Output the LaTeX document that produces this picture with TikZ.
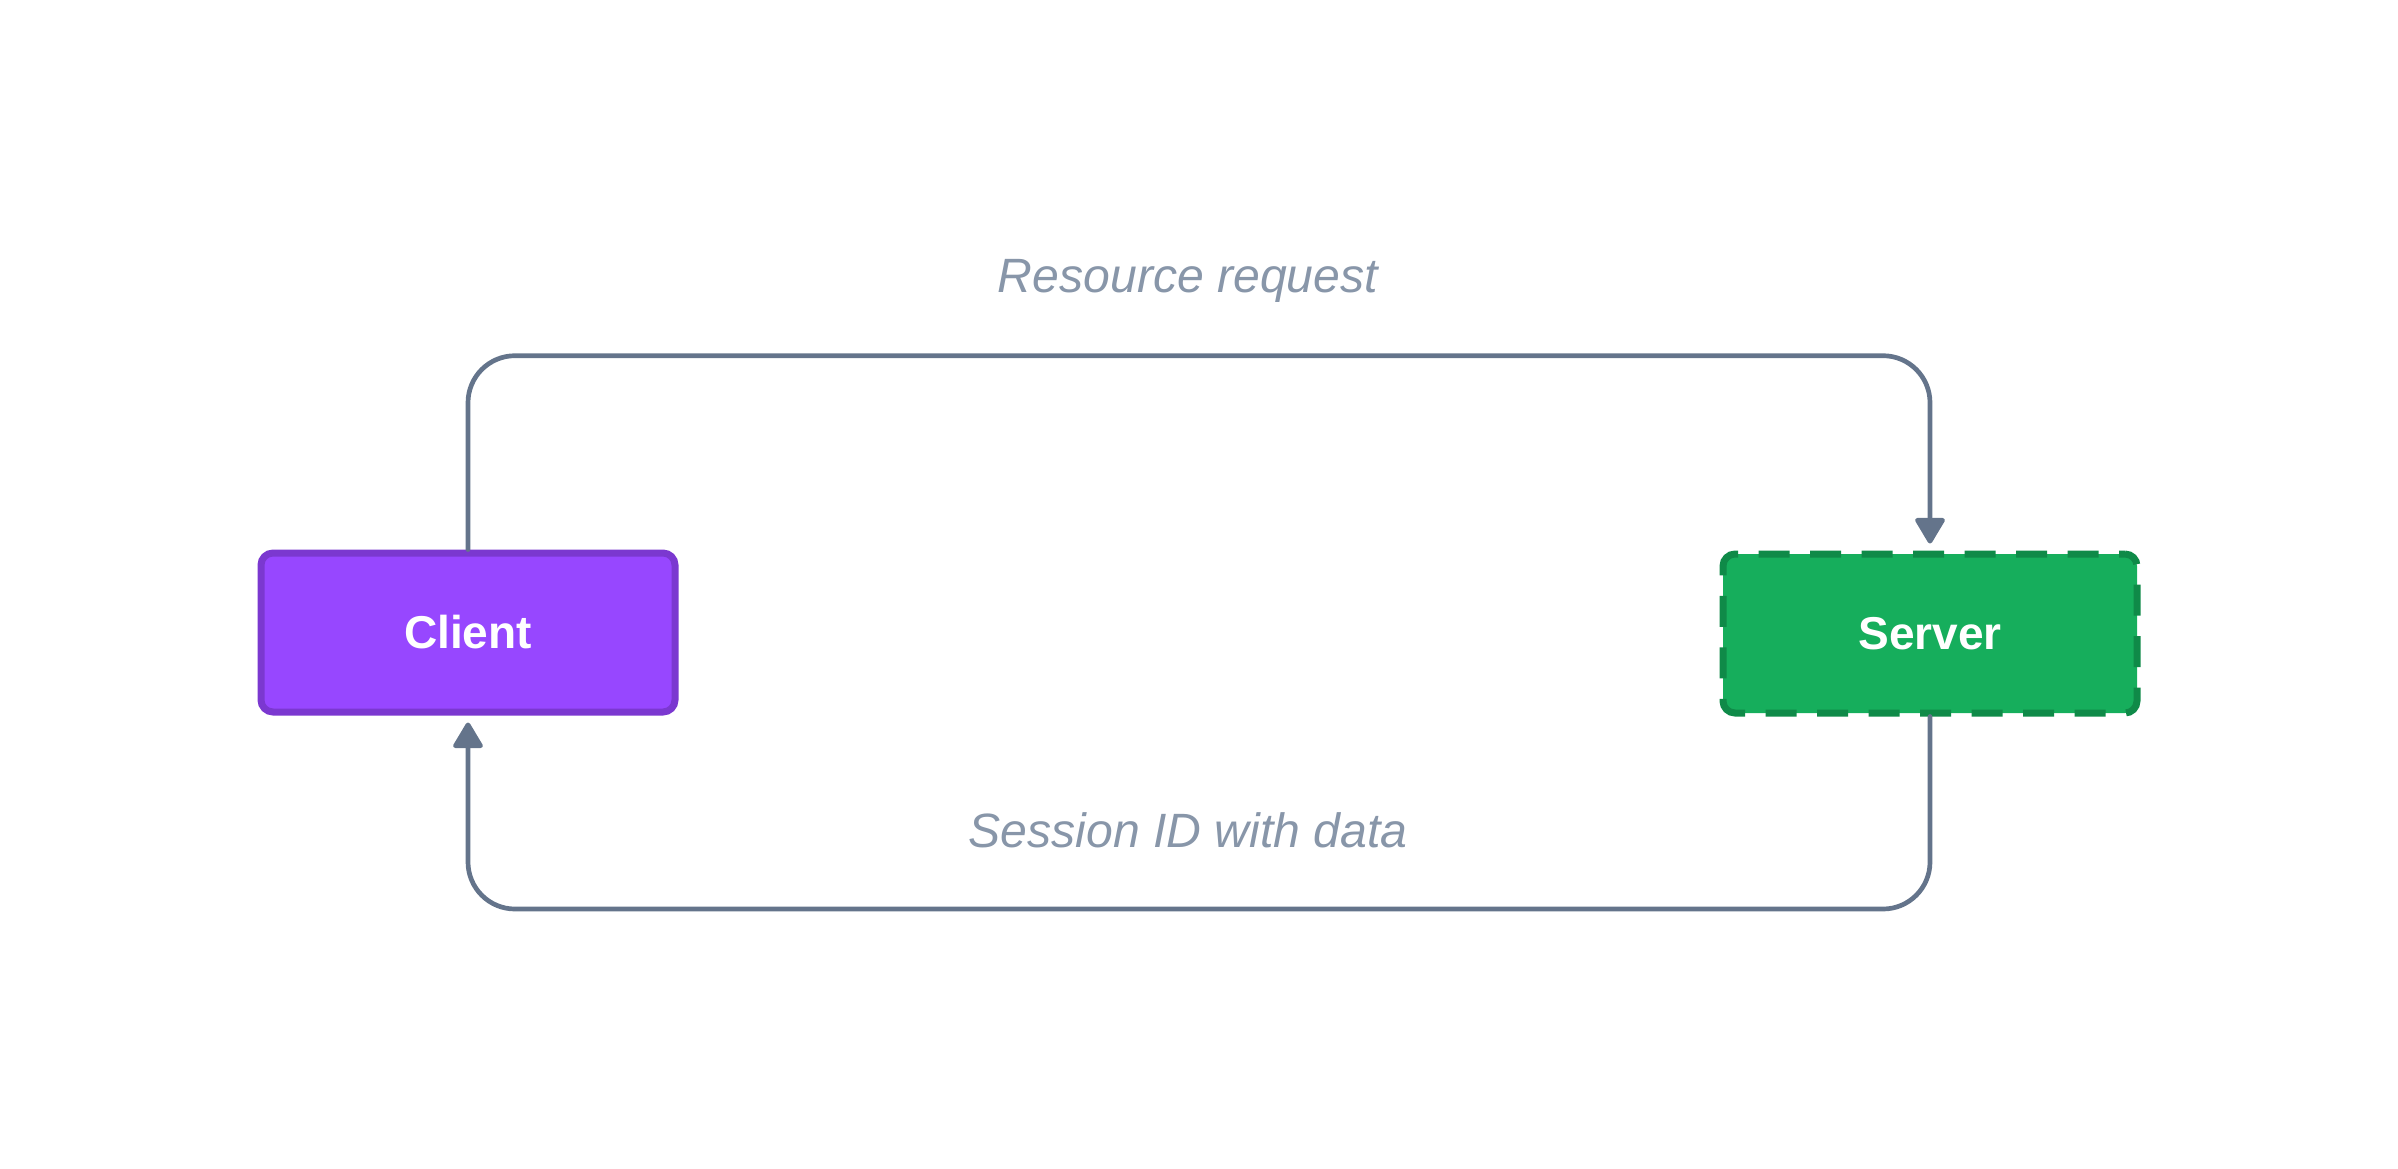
\documentclass[tikz,border=0pt]{standalone}
\usepackage{fontspec}
\setmainfont{Liberation Sans}
\usetikzlibrary{arrows.meta}
\definecolor{clientfill}{HTML}{9747FF}
\definecolor{clientline}{HTML}{7B38D0}
\definecolor{serverfill}{HTML}{16AE5C}
\definecolor{serverline}{HTML}{0F8A48}
\definecolor{flowline}{HTML}{64748B}
\definecolor{notetext}{HTML}{8896A9}

\begin{document}
\begin{tikzpicture}[box/.style={draw,line width=0.07cm,rounded corners=0.12cm,minimum width=4.14cm,minimum height=1.59cm,
                   text=white,font=\fontsize{13.1}{15}\selectfont\bfseries},
                   flow/.style={draw=flowline,line width=0.047cm,line cap=round,rounded corners=0.47cm,
                   -{Triangle[length=0.28cm,width=0.32cm,round]},shorten >=0.07cm},
                   note/.style={text=notetext,anchor=base,font=\fontsize{13.7}{15}\selectfont\itshape}]
\useasboundingbox (0,0) rectangle (23.98,-11.68);
\node[box,fill=clientfill,draw=clientline] (client) at (4.68,-6.325) {Client};
\node[box,fill=serverfill,draw=serverline,dash pattern=on 0.31cm off 0.205cm,dash phase=0.25cm] (server) at (19.30,-6.335) {Server};
\coordinate (up) at (0,-3.557);
\coordinate (down) at (0,-9.09);
\draw[flow] (client.north) -- (client.north |- up) -- (server.north |- up) -- (server.north);
\draw[flow] (server.south) -- (server.south |- down) -- (client.south |- down) -- (client.south);
\node[note] (request) at (11.88,-2.92) {Resource request};
\node[note] (session) at (11.88,-8.47) {Session ID with data};
\end{tikzpicture}
\end{document}
